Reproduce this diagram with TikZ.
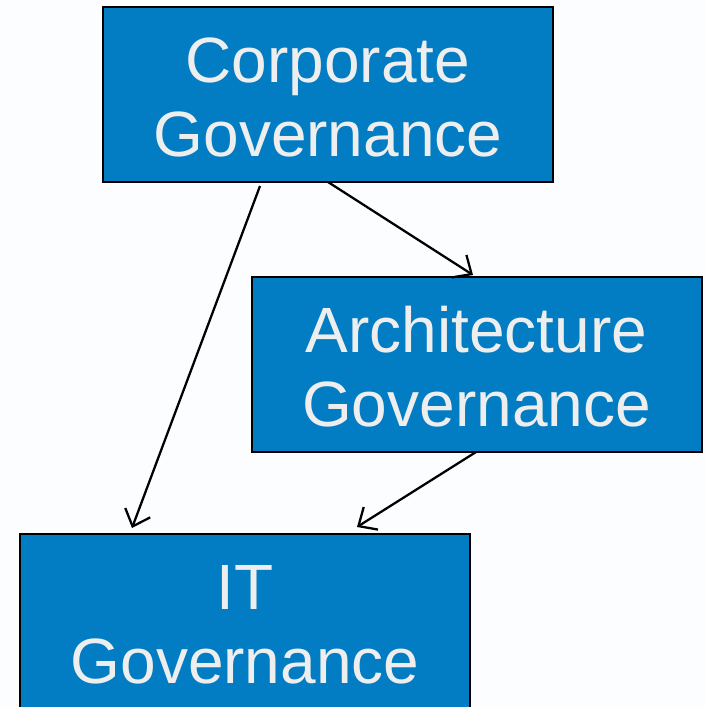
\documentclass[tikz,border=0pt]{standalone}
\usepackage{fontspec}
\setmainfont{Liberation Sans}
\usetikzlibrary{arrows.meta}
\definecolor{bgc}{HTML}{FBFDFF}
\definecolor{boxc}{HTML}{027CC2}
\definecolor{txtc}{HTML}{EEEEEE}
\newcommand{\topstrut}{\rule{0pt}{38pt}}
\tikzset{
  gbox/.style={draw=black, line width=1.5pt, fill=boxc, text=txtc,
    minimum width=450*0.75pt, minimum height=175*0.75pt, inner sep=0pt,
    align=center, font=\fontsize{48}{56}\selectfont},
  conn/.style={draw=black, line width=1.7pt, -{Straight Barb[length=11pt,width=20pt,line width=1.7pt]}}
}
\begin{document}
\begin{tikzpicture}[x=0.75pt,y=-0.75pt]
\fill[bgc] (0,0) rectangle (706,707);
\useasboundingbox (0,0) rectangle (706,707);
\clip (0,0) rectangle (706,707);
\node[gbox] (corp) at (328,94.5) {\topstrut Corporate\\Governance};
\node[gbox] (arch) at (476.5,364.5) {\topstrut Architecture\\Governance};
\node[gbox] (it) at (245,621.5) {\topstrut IT\\Governance};
\coordinate (c1) at (260,186);
\coordinate (i1) at (132,528);
\coordinate (c2) at (328,182);
\coordinate (a1) at (473,275);
\coordinate (a2) at (476,452);
\coordinate (i2) at (357,527);
\draw[conn] (c1) -- (i1);
\draw[conn] (c2) -- (a1);
\draw[conn] (a2) -- (i2);
\end{tikzpicture}
\end{document}
